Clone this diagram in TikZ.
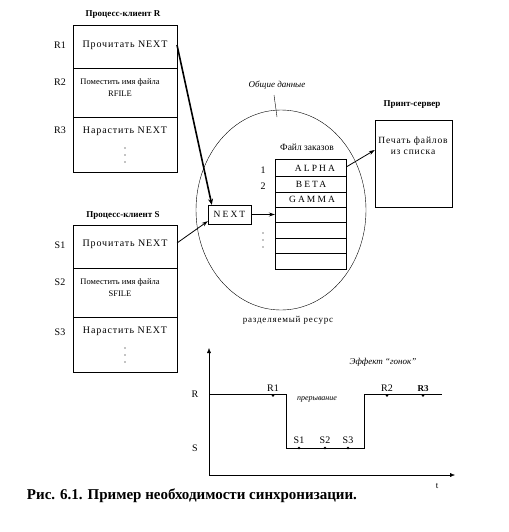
\documentclass[tikz,border=0pt]{standalone}
\usepackage{fontspec}
\setmainfont{Liberation Serif}
\newfontfamily\spaced[LetterSpace=9]{Liberation Serif}
\newfontfamily\widefont[LetterSpace=22]{Liberation Serif}
\usetikzlibrary{arrows.meta,positioning,calc}
\tikzset{
  procbox/.style={draw,rectangle,minimum width=104pt,minimum height=147pt,inner sep=0pt},
  ttl/.style={font=\fontsize{9}{10}\selectfont\bfseries},
  rowlbl/.style={font=\fontsize{10}{12}\selectfont},
  optxt/.style={font=\spaced\fontsize{10}{11}\selectfont},
  smtxt/.style={font=\fontsize{8.5}{12}\selectfont,align=center,inner sep=0pt},
  celltxt/.style={font=\widefont\fontsize{9.5}{10}\selectfont},
  dotmark/.style={circle,fill,inner sep=0pt,minimum size=1.4pt},
  arr/.style={-{Stealth[length=6pt,width=4pt]},thick},
  tarr/.style={-{Stealth[length=6pt,width=5pt]},line width=1.6pt},
  axarr/.style={-{Latex[length=5pt,width=4pt]}},
  mark dot/.style={circle,fill,inner sep=0pt,minimum size=2.6pt},
  note/.style={font=\itshape\fontsize{9}{11}\selectfont}
}
\begin{document}
\begin{tikzpicture}[x=1pt,y=-1pt]
  \useasboundingbox (0,0) rectangle (508,532);

  % process R
  \node[ttl] (ttlR) at (123,15) {Процесс-клиент R};
  \node[procbox] (procR) at (125,98.5) {};
  \draw (73,68) -- (177,68);
  \draw (73,117) -- (177,117);
  \node[rowlbl] (lblR1) at (60,45) {R1};
  \node[rowlbl] (lblR2) at (60,82) {R2};
  \node[rowlbl] (lblR3) at (60,130) {R3};
  \node[optxt] (readR) at (125,45) {Прочитать NEXT};
  \node[smtxt] (putR) at (120,88) {Поместить имя файла\\RFILE};
  \node[optxt] (incR) at (125,131) {Нарастить NEXT};
  \foreach \yy in {148,155,162}
    \node[dotmark] at (125,\yy) {};
  \coordinate (outR1) at (177,45);

  % process S
  \node[ttl] (ttlS) at (123,215) {Процесс-клиент S};
  \node[procbox] (procS) at (125,299) {};
  \draw (73,268) -- (177,268);
  \draw (73,317) -- (177,317);
  \node[rowlbl] (lblS1) at (60,245) {S1};
  \node[rowlbl] (lblS2) at (60,282) {S2};
  \node[rowlbl] (lblS3) at (60,332) {S3};
  \node[optxt] (readS) at (125,244) {Прочитать NEXT};
  \node[smtxt] (putS) at (120,288) {Поместить имя файла\\SFILE};
  \node[optxt] (incS) at (125,331) {Нарастить NEXT};
  \foreach \yy in {348,355,362}
    \node[dotmark] at (125,\yy) {};
  \coordinate (outS1) at (177,243);

  % shared data
  \draw (281,210) ellipse [x radius=85pt,y radius=100pt];
  \node[note] (shared) at (277,85) {Общие данные};
  \coordinate (sharedTip) at (277,117);
  \draw (274,95) -- (sharedTip);
  \node[font=\spaced\fontsize{9}{10}\selectfont] (res) at (288,320) {разделяемый ресурс};
  \node[font=\fontsize{9.5}{11}\selectfont] (ordTtl) at (307,147) {Файл заказов};
  \node[draw,minimum width=71pt,minimum height=110pt,inner sep=0pt] (orders) at (310.5,214) {};
  \foreach \yy in {176,192,207,222,238,253}
    \draw (275,\yy) -- (346,\yy);
  \node[rowlbl] (n1) at (263,170) {1};
  \node[rowlbl] (n2) at (263,186) {2};
  \foreach \yy in {233,240,247}
    \node[dotmark] at (263,\yy) {};
  \node[celltxt] (alpha) at (315,168) {ALPHA};
  \node[celltxt] (beta) at (311,184) {BETA};
  \node[celltxt] (gamma) at (312,199) {GAMMA};
  \node[draw,celltxt,minimum width=43pt,minimum height=19pt,inner sep=0pt] (next) at (229.5,214.5) {NEXT};

  % print server
  \node[ttl] (ttlP) at (412,105) {Принт-сервер};
  \node[draw,minimum width=77pt,minimum height=87pt,inner sep=0pt] (print) at (413.5,163.5) {};
  \node[font=\spaced\fontsize{9.5}{11}\selectfont,align=center] (printTxt) at (413,146) {Печать файлов\\из списка};

  % connectors
  \draw[tarr] (outR1) -- ([xshift=4pt]next.north west);
  \draw[arr] (outS1) -- ([yshift=3pt]next.south west);
  \draw[arr] (next) -- (orders.west |- next);
  \draw[arr] (orders.east |- 0,167) -- (print.west |- 0,150);

  % race timing
  \coordinate (org) at (209,475);
  \draw[axarr] (org) -- (209,348);
  \draw[axarr] (org) -- (455,475);
  \node[font=\fontsize{9}{10}\selectfont] (tlbl) at (437,486) {t};
  \node[rowlbl] (lvlR) at (195,394) {R};
  \node[rowlbl] (lvlS) at (195,448) {S};
  \draw (209,394) -- (286,394) -- (286,448) -- (364,448) -- (364,394) -- (442,394);
  \foreach \xx/\tt in {273/R1,387/R2}
    \node[mark dot,label={[rowlbl,yshift=-1pt]above:\tt}] at (\xx,395.5) {};
  \node[mark dot,label={[rowlbl,font=\bfseries\fontsize{9}{10}\selectfont,yshift=-1pt]above:R3}] (r3) at (423,395.5) {};
  \foreach \xx/\tt in {299/S1,325/S2,348/S3}
    \node[mark dot,label={[rowlbl,yshift=-1pt]above:\tt}] at (\xx,448) {};
  \node[note,font=\itshape\fontsize{8}{10}\selectfont] (intr) at (317,399) {прерывание};
  \node[note] (race) at (383,362) {Эффект “гонок”};

  % caption
  \node[font=\bfseries\fontsize{15}{17}\selectfont] (cap) at (192,496) {Рис. 6.1. Пример необходимости синхронизации.};
\end{tikzpicture}
\end{document}
